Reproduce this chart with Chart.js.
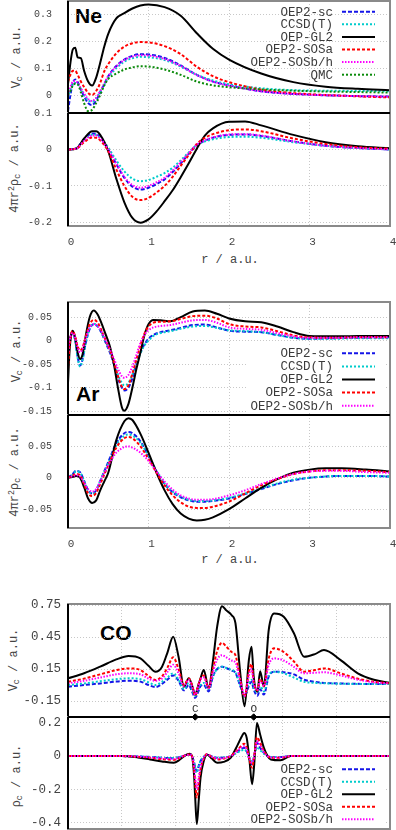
<!DOCTYPE html>
<html><head><meta charset="utf-8">
<script src="https://cdn.jsdelivr.net/npm/chart.js@4.4.0/dist/chart.umd.min.js"></script>
<style>
html,body{margin:0;padding:0;background:#fff;width:396px;height:830px;overflow:hidden;}
body{position:relative;}
canvas{position:absolute;left:0;}
.yl{position:absolute;font-family:"Liberation Mono",monospace;font-size:12px;color:#444;white-space:nowrap;transform:translate(-50%,-50%) rotate(-90deg);line-height:1;}
.xl{position:absolute;font-family:"Liberation Mono",monospace;font-size:12px;color:#444;white-space:nowrap;transform:translate(-50%,-50%);line-height:1;}
.tt{position:absolute;font-family:"Liberation Sans",Arial,sans-serif;font-weight:bold;font-size:21px;color:#000;line-height:1;}
sub{font-size:70%;vertical-align:-0.2em;line-height:0}
sup{font-size:70%;vertical-align:0.5em;line-height:0}
</style></head><body>
<div class="tt" style="left:75px;top:5px">Ne</div>
<div class="tt" style="left:76px;top:383px">Ar</div>
<div class="tt" style="left:100px;top:622px">CO</div>
<div class="yl" style="left:17px;top:57px">V<sub>c</sub> / a.u.</div>
<div class="yl" style="left:15px;top:168px">4πr<sup>2</sup>ρ<sub>c</sub> / a.u.</div>
<div class="yl" style="left:17px;top:351px">V<sub>c</sub> / a.u.</div>
<div class="yl" style="left:15px;top:472px">4πr<sup>2</sup>ρ<sub>c</sub> / a.u.</div>
<div class="yl" style="left:14px;top:660px">V<sub>c</sub> / a.u.</div>
<div class="yl" style="left:17px;top:776px">ρ<sub>c</sub> / a.u.</div>
<div class="xl" style="left:230px;top:260px">r / a.u.</div>
<div class="xl" style="left:230px;top:560px">r / a.u.</div>
<script>
// ---------- series names / styles ----------
const NAMES = ["OEP2-sc","CCSD(T)","OEP-GL2","OEP2-SOSa","OEP2-SOSb/h","QMC"];
const STY = [
  {c:'#1515e8', w:2, d:[4,2]},
  {c:'#00cccc', w:2, d:[2,2]},
  {c:'#000000', w:2, d:[]},
  {c:'#ff0000', w:2, d:[3,2]},
  {c:'#ff00ff', w:2, d:[1.5,1.5]},
  {c:'#0a8a0a', w:2, d:[2,2]}
];

// ---------- Ne : V_c ----------
const neV_x    = [0,0.03,0.06,0.09,0.12,0.16,0.2,0.25,0.3,0.35,0.4,0.45,0.5,0.6,0.7,0.8,0.9,1.0,1.2,1.4,1.6,1.8,2.0,2.4,2.8,3.2,3.6,4.0];
const neV_sc   = [-0.06,0.0,0.045,0.058,0.048,0.02,-0.005,-0.03,-0.037,-0.02,0.01,0.04,0.07,0.108,0.132,0.146,0.152,0.151,0.138,0.11,0.075,0.05,0.036,0.014,0.004,-0.001,-0.004,-0.006];
const neV_ccsd = [-0.01,0.02,0.04,0.045,0.04,0.022,0.0,-0.02,-0.025,-0.012,0.012,0.038,0.065,0.1,0.124,0.137,0.142,0.141,0.13,0.106,0.075,0.054,0.04,0.025,0.018,0.016,0.015,0.014];
const neV_gl2  = [0.04,0.12,0.17,0.176,0.14,0.137,0.09,0.05,0.035,0.065,0.12,0.18,0.228,0.285,0.305,0.322,0.333,0.337,0.327,0.295,0.23,0.172,0.132,0.08,0.048,0.031,0.023,0.018];
const neV_sosa = [0.05,0.075,0.09,0.09,0.075,0.05,0.03,0.008,0.0,0.015,0.045,0.088,0.115,0.155,0.18,0.193,0.197,0.196,0.182,0.152,0.105,0.07,0.048,0.02,0.007,0.0,-0.005,-0.009];
const neV_sosb = [0.0,0.03,0.05,0.052,0.045,0.025,0.005,-0.015,-0.022,-0.01,0.015,0.042,0.07,0.106,0.13,0.143,0.148,0.147,0.134,0.108,0.074,0.05,0.035,0.014,0.004,-0.001,-0.004,-0.006];
const neV_qmc  = [0.0,0.015,0.035,0.042,0.04,0.01,-0.03,-0.06,-0.055,-0.03,0.0,0.035,0.06,0.08,0.095,0.103,0.107,0.106,0.095,0.075,0.05,0.036,0.029,0.021,0.016,0.013,0.011,0.009];

// ---------- Ne : 4 pi r^2 rho_c ----------
const neR_x    = [0,0.1,0.2,0.3,0.35,0.4,0.5,0.6,0.7,0.8,0.9,1.0,1.1,1.2,1.3,1.4,1.5,1.6,1.7,1.8,2.0,2.2,2.4,2.8,3.2,3.6,4.0];
const neR_sc   = [0,0.003,0.028,0.044,0.043,0.033,0.0,-0.04,-0.078,-0.102,-0.11,-0.105,-0.095,-0.082,-0.062,-0.038,-0.012,0.012,0.024,0.032,0.04,0.041,0.037,0.022,0.01,0.004,0.0];
const neR_ccsd = [0,0.003,0.026,0.04,0.04,0.033,0.005,-0.03,-0.06,-0.08,-0.087,-0.084,-0.075,-0.065,-0.05,-0.03,-0.008,0.012,0.022,0.028,0.034,0.035,0.032,0.02,0.01,0.004,0.0];
const neR_gl2  = [0,0.002,0.03,0.05,0.05,0.04,-0.005,-0.08,-0.145,-0.188,-0.201,-0.192,-0.17,-0.142,-0.112,-0.076,-0.038,0.002,0.038,0.058,0.076,0.077,0.066,0.04,0.02,0.009,0.003];
const neR_sosa = [0,0.002,0.02,0.033,0.032,0.025,-0.005,-0.055,-0.1,-0.13,-0.139,-0.133,-0.118,-0.1,-0.075,-0.045,-0.015,0.015,0.032,0.042,0.053,0.055,0.05,0.03,0.015,0.006,0.002];
const neR_sosb = [0,0.002,0.024,0.038,0.038,0.03,0.0,-0.038,-0.075,-0.098,-0.105,-0.1,-0.09,-0.078,-0.058,-0.035,-0.01,0.013,0.025,0.033,0.041,0.042,0.038,0.022,0.01,0.004,0.0];

// ---------- Ar : V_c ----------
const arV_x    = [0,0.02,0.04,0.06,0.09,0.12,0.15,0.18,0.22,0.27,0.32,0.37,0.42,0.47,0.52,0.57,0.62,0.67,0.7,0.75,0.8,0.85,0.9,0.95,1.0,1.06,1.15,1.27,1.4,1.55,1.7,1.85,2.0,2.2,2.4,2.6,2.8,3.0,3.3,3.6,4.0];
const arV_sc   = [-0.05,0.0,0.015,0.018,0.0,-0.035,-0.053,-0.04,-0.005,0.025,0.035,0.03,0.015,-0.005,-0.025,-0.05,-0.08,-0.1,-0.106,-0.1,-0.08,-0.05,-0.025,-0.008,0.004,0.012,0.018,0.022,0.027,0.033,0.034,0.028,0.021,0.019,0.018,0.012,0.006,0.004,0.005,0.006,0.007];
const arV_ccsd = [-0.04,0.0,0.013,0.016,-0.002,-0.037,-0.055,-0.042,-0.006,0.026,0.036,0.031,0.016,-0.003,-0.022,-0.045,-0.072,-0.09,-0.095,-0.09,-0.072,-0.048,-0.027,-0.01,0.0,0.01,0.016,0.02,0.025,0.03,0.031,0.027,0.022,0.02,0.018,0.012,0.006,0.004,0.004,0.005,0.005];
const arV_gl2  = [-0.09,-0.02,0.012,0.021,0.005,-0.025,-0.039,-0.03,0.01,0.05,0.064,0.055,0.035,0.012,-0.012,-0.05,-0.1,-0.142,-0.149,-0.135,-0.1,-0.06,-0.025,0.012,0.035,0.044,0.043,0.041,0.05,0.062,0.064,0.057,0.047,0.041,0.039,0.03,0.018,0.01,0.009,0.01,0.01];
const arV_sosa = [-0.06,-0.01,0.015,0.02,0.008,-0.012,-0.021,-0.015,0.008,0.035,0.044,0.038,0.02,0.0,-0.02,-0.045,-0.075,-0.098,-0.103,-0.095,-0.07,-0.04,-0.01,0.015,0.03,0.038,0.04,0.041,0.046,0.052,0.053,0.047,0.035,0.03,0.028,0.02,0.011,0.007,0.006,0.007,0.007];
const arV_sosb = [-0.03,0.0,0.013,0.016,0.005,-0.015,-0.025,-0.018,0.005,0.028,0.035,0.03,0.018,0.0,-0.018,-0.038,-0.06,-0.076,-0.079,-0.073,-0.055,-0.03,-0.005,0.012,0.022,0.028,0.031,0.033,0.038,0.043,0.044,0.038,0.028,0.025,0.023,0.016,0.009,0.006,0.006,0.007,0.007];

// ---------- Ar : 4 pi r^2 rho_c ----------
const arR_x    = [0,0.05,0.1,0.15,0.2,0.25,0.3,0.35,0.4,0.45,0.5,0.6,0.7,0.75,0.8,0.9,1.0,1.1,1.2,1.3,1.4,1.5,1.6,1.7,1.8,2.0,2.2,2.4,2.6,2.8,3.0,3.2,3.4,3.7,4.0];
const arR_sc   = [0,0.005,0.011,0.009,-0.005,-0.02,-0.025,-0.02,-0.005,0.01,0.025,0.055,0.071,0.073,0.071,0.058,0.035,0.01,-0.01,-0.023,-0.031,-0.036,-0.038,-0.038,-0.037,-0.033,-0.026,-0.018,-0.01,-0.004,0.0,0.002,0.003,0.003,0.002];
const arR_ccsd = [0,0.004,0.01,0.008,-0.005,-0.02,-0.025,-0.02,-0.005,0.009,0.023,0.052,0.067,0.069,0.067,0.056,0.035,0.011,-0.009,-0.022,-0.03,-0.035,-0.037,-0.037,-0.036,-0.032,-0.025,-0.017,-0.009,-0.003,0.0,0.002,0.003,0.003,0.002];
const arR_gl2  = [0,0.001,0.003,0.0,-0.015,-0.033,-0.04,-0.036,-0.02,-0.006,0.008,0.06,0.09,0.095,0.092,0.07,0.04,0.008,-0.02,-0.042,-0.057,-0.065,-0.068,-0.067,-0.063,-0.05,-0.033,-0.016,-0.002,0.008,0.013,0.015,0.015,0.013,0.01];
const arR_sosa = [0,0.003,0.006,0.004,-0.01,-0.025,-0.029,-0.024,-0.01,0.005,0.02,0.048,0.063,0.065,0.063,0.05,0.03,0.008,-0.012,-0.028,-0.039,-0.046,-0.048,-0.048,-0.046,-0.038,-0.025,-0.012,-0.002,0.006,0.01,0.012,0.012,0.011,0.009];
const arR_sosb = [0,0.002,0.004,0.002,-0.008,-0.018,-0.022,-0.018,-0.006,0.008,0.02,0.04,0.049,0.05,0.048,0.04,0.027,0.01,-0.006,-0.019,-0.028,-0.033,-0.035,-0.035,-0.034,-0.028,-0.02,-0.01,-0.001,0.006,0.01,0.011,0.011,0.009,0.008];

// ---------- CO : V_c ----------
const coV_x    = [0,0.3,0.6,0.9,1.13,1.35,1.5,1.63,1.75,1.85,1.96,2.06,2.16,2.25,2.31,2.37,2.43,2.47,2.53,2.62,2.7,2.78,2.87,2.95,3.05,3.12,3.21,3.29,3.37,3.42,3.46,3.53,3.58,3.65,3.74,3.84,4.02,4.21,4.4,4.6,4.77,5.08,5.4,5.7,6.0];
const coV_sc   = [-0.016,0.0,0.015,0.032,0.04,0.032,0.0,-0.02,0.01,0.05,0.09,0.04,-0.05,0.0,-0.06,-0.12,-0.06,-0.01,0.0,-0.06,0.08,0.15,0.172,0.16,0.135,0.115,-0.01,-0.1,-0.01,0.03,-0.04,-0.1,-0.04,-0.09,0.08,0.125,0.12,0.1,0.05,0.03,0.02,0.014,0.011,0.01,0.01];
const coV_ccsd = [0.0,0.015,0.035,0.055,0.063,0.055,0.025,0.0,0.03,0.07,0.11,0.05,-0.04,0.02,-0.04,-0.1,-0.04,0.0,0.02,-0.04,0.08,0.15,0.172,0.16,0.14,0.12,0.0,-0.11,0.02,0.05,-0.02,-0.07,-0.01,-0.06,0.09,0.125,0.11,0.07,0.03,0.02,0.016,0.012,0.01,0.01,0.01];
const coV_gl2  = [0.063,0.11,0.172,0.24,0.272,0.25,0.18,0.125,0.17,0.3,0.453,0.265,-0.016,0.063,0.0,-0.09,0.0,0.063,0.14,-0.03,0.22,0.55,0.74,0.7,0.655,0.58,0.11,-0.2,0.234,0.36,0.078,-0.063,0.13,-0.015,0.516,0.67,0.64,0.485,0.265,0.29,0.328,0.234,0.11,0.05,0.02];
const coV_sosa = [0.03,0.06,0.1,0.14,0.156,0.14,0.085,0.047,0.08,0.16,0.26,0.15,0.0,0.06,0.0,-0.1,0.0,0.06,0.09,-0.03,0.15,0.32,0.396,0.36,0.31,0.28,0.05,-0.11,0.12,0.197,0.03,-0.05,0.06,-0.01,0.25,0.344,0.31,0.22,0.125,0.14,0.156,0.11,0.06,0.03,0.016];
const coV_sosb = [0.016,0.04,0.07,0.1,0.11,0.1,0.06,0.04,0.06,0.12,0.19,0.11,-0.01,0.05,-0.01,-0.09,-0.01,0.05,0.07,-0.03,0.12,0.24,0.28,0.26,0.23,0.21,0.04,-0.1,0.09,0.15,0.02,-0.05,0.04,-0.01,0.19,0.25,0.23,0.17,0.11,0.115,0.12,0.09,0.05,0.025,0.016];
const atomNames = ["C","O"];
const atomX     = [2.37,3.46];

// ---------- CO : rho_c ----------
const coR_x    = [0,0.5,1.0,1.3,1.53,1.75,1.97,2.07,2.14,2.22,2.27,2.31,2.35,2.37,2.40,2.44,2.47,2.53,2.59,2.68,2.78,2.9,3.03,3.15,3.24,3.28,3.33,3.38,3.43,3.47,3.52,3.58,3.65,3.72,3.78,3.96,4.15,4.5,5.0,6.0];
const coR_sc   = [0,0,0,-0.002,-0.005,-0.01,-0.013,-0.007,0.0,0.006,0.008,0.0,-0.04,-0.07,-0.09,-0.055,-0.03,-0.005,0.008,-0.002,-0.01,-0.008,0.0,0.025,0.045,0.05,0.03,-0.02,-0.05,0.0,0.08,0.05,0.02,0.0,-0.006,-0.006,0.0,0,0,0];
const coR_ccsd = [0,0,0,-0.002,-0.005,-0.01,-0.012,-0.006,0.0,0.006,0.008,0.0,-0.04,-0.07,-0.1,-0.06,-0.03,-0.005,0.008,-0.002,-0.01,-0.008,0.0,0.02,0.035,0.04,0.025,-0.01,-0.03,0.0,0.05,0.035,0.015,0.0,-0.005,-0.005,0.0,0,0,0];
const coR_gl2  = [0,0,0,-0.008,-0.02,-0.032,-0.04,-0.025,-0.006,0.01,0.014,0.0,-0.12,-0.25,-0.41,-0.25,-0.13,-0.03,0.01,-0.015,-0.04,-0.035,-0.01,0.06,0.12,0.14,0.11,-0.02,-0.17,-0.05,0.2,0.13,0.05,0.0,-0.02,-0.025,0.0,0,0,0];
const coR_sosa = [0,0,0,-0.004,-0.01,-0.018,-0.022,-0.013,-0.002,0.008,0.01,0.0,-0.08,-0.16,-0.25,-0.15,-0.08,-0.015,0.012,-0.005,-0.02,-0.015,0.0,0.035,0.065,0.074,0.05,-0.02,-0.07,0.0,0.114,0.08,0.03,0.0,-0.01,-0.01,0.0,0,0,0];
const coR_sosb = [0,0,0,-0.003,-0.008,-0.014,-0.018,-0.01,-0.001,0.007,0.009,0.0,-0.07,-0.13,-0.2,-0.12,-0.06,-0.01,0.01,-0.004,-0.015,-0.012,0.0,0.03,0.055,0.06,0.04,-0.015,-0.04,0.0,0.09,0.065,0.025,0.0,-0.008,-0.008,0.0,0,0,0];

// ---------- tick labels ----------
const rTicks = [0,1,2,3,4];
const rLabels = ["0","1","2","3","4"];
const coTicks = [0,1,2,3,4,5,6];
const neV_ticks = [0,0.1,0.2,0.3];          const neV_labels = ["0","0.1","0.2","0.3"];
const neR_ticks = [-0.2,-0.1,0,0.1];        const neR_labels = ["-0.2","-0.1","0","0.1"];
const arV_ticks = [-0.15,-0.1,-0.05,0,0.05]; const arV_labels = ["-0.15","-0.1","-0.05","0","0.05"];
const arR_ticks = [-0.05,0,0.05];           const arR_labels = ["-0.05","0","0.05"];
const coV_ticks = [-0.15,0.15,0.45,0.75];   const coV_labels = ["-0.15","0.15","0.45","0.75"];
const coR_ticks = [-0.4,-0.2,0,0.2];        const coR_labels = ["-0.4","-0.2","0","0.2"];

// ---------- drawing ----------
const MONO = "'Liberation Mono', 'DejaVu Sans Mono', monospace";
const framePlugin = {
  id:'frame',
  afterDatasetsDraw(chart, args, o){
    const ctx = chart.ctx, a = chart.chartArea;
    ctx.save();
    if (o.legend){
      const L = o.legend;
      const ds = chart.data.datasets.filter(d=>!d.isAtom);
      ctx.font = L.size + 'px ' + MONO;
      let maxw = 0; ds.forEach(d=>{maxw=Math.max(maxw, ctx.measureText(d.label).width);});
      if (L.box){
        const bl = L.boxLeft!=null ? L.boxLeft : L.x - maxw - 3;
        ctx.fillStyle = '#fff';
        ctx.fillRect(bl, L.y0 - 7, 384 - bl, (ds.length-1)*L.dy + 14);
      }
      ds.forEach((d,i)=>{
        const y = L.y0 + i*L.dy;
        ctx.fillStyle = '#3a3a3a'; ctx.textAlign='right'; ctx.textBaseline='middle';
        ctx.fillText(d.label, L.x, y+0.5);
        ctx.beginPath(); ctx.setLineDash(d.borderDash||[]);
        ctx.strokeStyle = d.borderColor; ctx.lineWidth = d.borderWidth;
        ctx.moveTo(342, y); ctx.lineTo(375, y); ctx.stroke();
      });
      ctx.setLineDash([]);
    }
    if (o.atoms){
      const xs = chart.scales.x;
      ctx.font = '11px ' + MONO; ctx.fillStyle = '#333';
      ctx.textAlign='center'; ctx.textBaseline='middle';
      o.atoms.names.forEach((n,i)=>{ ctx.fillText(n, xs.getPixelForValue(o.atoms.x[i]), a.bottom - 8); });
    }
    ctx.setLineDash([]);
    ctx.lineWidth = 2; ctx.strokeStyle = '#8a8a8a';
    ctx.strokeRect(a.left, a.top, a.right - a.left, a.bottom - a.top);
    ctx.strokeStyle = '#000';
    ctx.beginPath(); ctx.moveTo(a.left, a.top); ctx.lineTo(a.left, a.bottom);
    if (o.sepTop){ ctx.moveTo(a.left, a.top); ctx.lineTo(a.right, a.top); }
    if (o.sepBottom){ ctx.moveTo(a.left, a.bottom); ctx.lineTo(a.right, a.bottom); }
    ctx.stroke();
    ctx.restore();
  }
};

function zeroPad(s){ s.paddingTop = 0; s.paddingBottom = 0; s.paddingLeft = 0; s.paddingRight = 0; }

function makePanel(o){
  const padT = 6, xh = o.xlabels ? 26 : 0, padB = o.xlabels ? 0 : 6;
  const cTop = o.top - padT;
  const H = (o.bottom - o.top) + padT + padB + xh;
  const c = document.createElement('canvas');
  c.width = 396; c.height = H; c.style.top = cTop + 'px';
  c.style.width = '396px'; c.style.height = H + 'px';
  document.body.appendChild(c);
  const n = o.series.length;
  const datasets = o.series.map((s,i)=>({
    label: NAMES[s.k],
    data: o.x.map((xv,j)=>({x:xv, y:s.v[j]})),
    borderColor: STY[s.k].c, borderWidth: STY[s.k].w, borderDash: STY[s.k].d,
    pointRadius: 0, fill:false, cubicInterpolationMode:'monotone', order: n - i + 1
  }));
  if (o.atoms){
    datasets.push({type:'scatter', isAtom:true, label:'atoms',
      data:o.atoms.x.map(v=>({x:v, y:o.ymin})), pointStyle:'rectRot', pointRadius:3.2,
      backgroundColor:'#000', borderColor:'#000', borderWidth:1, showLine:false, clip:false, order:0});
  }
  const fp = {sepTop:o.sepTop, sepBottom:o.sepBottom, atoms:o.atoms};
  if (o.legend) fp.legend = Object.assign({}, o.legend, {y0:o.legend.y0 - cTop});
  new Chart(c, {
    type:'line',
    data:{datasets},
    options:{
      responsive:false, animation:false, devicePixelRatio:1,
      layout:{padding:{top:padT, bottom:padB, left:0, right:6}},
      plugins:{legend:{display:false}, tooltip:{enabled:false}, frame:fp},
      scales:{
        x:{type:'linear', min:o.xmin, max:o.xmax,
           afterBuildTicks:s=>{ s.ticks = o.xticks.map(v=>({value:v})); },
           afterFit:s=>{ s.height = xh; zeroPad(s); },
           grid:{color:'#c8c8c8', lineWidth:1, drawTicks:false},
           border:{display:false, dash:[1,2]},
           ticks:{display:!!o.xlabels, padding:9, labelOffset:3, maxRotation:0, autoSkip:false,
                  font:{family:MONO, size:11}, color:'#444',
                  callback:(v,i)=> o.xlabels ? o.xlabels[i] : ''}},
        y:{type:'linear', min:o.ymin, max:o.ymax,
           afterBuildTicks:s=>{ s.ticks = o.yticks.map(v=>({value:v})); },
           afterFit:s=>{ s.width = 68; zeroPad(s); },
           grid:{color:'#c8c8c8', lineWidth:1, drawTicks:false},
           border:{display:false, dash:[1,2]},
           ticks:{padding:o.tpad, autoSkip:false, font:{family:MONO, size:o.tsize}, color:'#444',
                  callback:(v,i)=> o.ylabels[i]}}
      }
    },
    plugins:[framePlugin]
  });
}

makePanel({top:1, bottom:113, xmin:0, xmax:4, xticks:rTicks, ymin:-0.067, ymax:0.35,
  yticks:neV_ticks, ylabels:neV_labels, tpad:16, tsize:10, sepBottom:true, x:neV_x,
  series:[{k:0,v:neV_sc},{k:1,v:neV_ccsd},{k:2,v:neV_gl2},{k:3,v:neV_sosa},{k:4,v:neV_sosb},{k:5,v:neV_qmc}],
  legend:{x:333, y0:11.7, dy:12.6, size:12.5, box:false}});
makePanel({top:113, bottom:226, xmin:0, xmax:4, xticks:rTicks, xlabels:rLabels, ymin:-0.21, ymax:0.1,
  yticks:neR_ticks, ylabels:neR_labels, tpad:16, tsize:10, sepTop:true, x:neR_x,
  series:[{k:0,v:neR_sc},{k:1,v:neR_ccsd},{k:2,v:neR_gl2},{k:3,v:neR_sosa},{k:4,v:neR_sosb}]});
makePanel({top:302, bottom:415, xmin:0, xmax:4, xticks:rTicks, ymin:-0.158, ymax:0.082,
  yticks:arV_ticks, ylabels:arV_labels, tpad:16, tsize:10, sepBottom:true, x:arV_x,
  series:[{k:0,v:arV_sc},{k:1,v:arV_ccsd},{k:2,v:arV_gl2},{k:3,v:arV_sosa},{k:4,v:arV_sosb}],
  legend:{x:333, y0:353.3, dy:13.1, size:12.5, box:true}});
makePanel({top:415, bottom:528, xmin:0, xmax:4, xticks:rTicks, xlabels:rLabels, ymin:-0.08, ymax:0.1,
  yticks:arR_ticks, ylabels:arR_labels, tpad:16, tsize:10, sepTop:true, x:arR_x,
  series:[{k:0,v:arR_sc},{k:1,v:arR_ccsd},{k:2,v:arR_gl2},{k:3,v:arR_sosa},{k:4,v:arR_sosb}]});
makePanel({top:604, bottom:717, xmin:0, xmax:6, xticks:coTicks, ymin:-0.3, ymax:0.76,
  yticks:coV_ticks, ylabels:coV_labels, tpad:7, tsize:12.5, sepBottom:true, x:coV_x,
  series:[{k:0,v:coV_sc},{k:1,v:coV_ccsd},{k:2,v:coV_gl2},{k:3,v:coV_sosa},{k:4,v:coV_sosb}],
  atoms:{names:atomNames, x:atomX}});
makePanel({top:717, bottom:829, xmin:0, xmax:6, xticks:coTicks, ymin:-0.44, ymax:0.236,
  yticks:coR_ticks, ylabels:coR_labels, tpad:7, tsize:12.5, sepTop:true, x:coR_x,
  series:[{k:0,v:coR_sc},{k:1,v:coR_ccsd},{k:2,v:coR_gl2},{k:3,v:coR_sosa},{k:4,v:coR_sosb}],
  legend:{x:333, y0:769.3, dy:12.5, size:12.5, box:true, boxLeft:256}});
</script>
</body></html>
